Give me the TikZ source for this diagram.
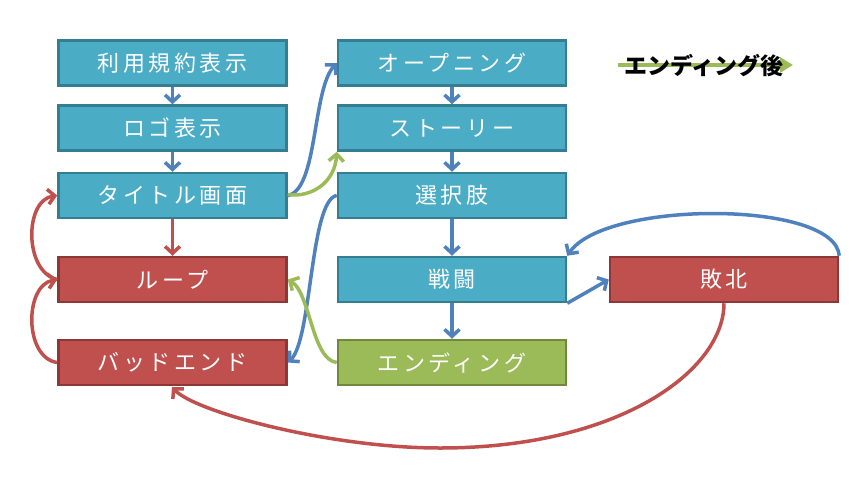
\documentclass[tikz,border=0pt]{standalone}
\usepackage{fontspec}
\usetikzlibrary{arrows.meta}
\newfontfamily\flowfont{Noto Sans CJK JP}[LetterSpace=16]
\newfontfamily\legendfont{Noto Sans CJK JP}
\definecolor{boxblue}{HTML}{4BACC6}
\definecolor{boxblueline}{HTML}{357D91}
\definecolor{boxred}{HTML}{C0504D}
\definecolor{boxredline}{HTML}{8C3836}
\definecolor{boxgreen}{HTML}{9BBB59}
\definecolor{boxgreenline}{HTML}{71893F}
\definecolor{lineblue}{HTML}{4F81BD}
\newcommand\flowboxwidth{228pt}
\newcommand\flowboxheight{45pt}
\newcommand\flowtextstyle{\fontsize{22pt}{24pt}\selectfont\flowfont}
\tikzset{
  flowbox/.style={rectangle, line width=2.5pt, minimum width=\flowboxwidth,
    minimum height=\flowboxheight, inner sep=0pt, text=white, font=\flowtextstyle},
  bluebox/.style={flowbox, fill=boxblue, draw=boxblueline},
  redbox/.style={flowbox, fill=boxred, draw=boxredline},
  greenbox/.style={flowbox, fill=boxgreen, draw=boxgreenline},
  flowtip/.style={-{Straight Barb[length=7pt,width=15pt]}},
  blueflow/.style={flowtip, draw=lineblue, line width=3.5pt},
  redflow/.style={flowtip, draw=boxred, line width=3.5pt},
  greenflow/.style={flowtip, draw=boxgreen, line width=3.5pt},
}

\begin{document}
\begin{tikzpicture}[x=1pt, y=-1pt]
  \useasboundingbox (0,0) rectangle (856,482);
  % left column
  \node[bluebox] (terms) at (172.5, 63) {利用規約表示};
  \node[bluebox] (logo) at (172.5, 128) {ロゴ表示};
  \node[bluebox] (title) at (172.5, 195.5) {タイトル画面};
  \node[redbox] (loop) at (172.5, 279.5) {ループ};
  \node[redbox] (badend) at (172.5, 362.5) {バッドエンド};
  % right column
  \node[bluebox] (opening) at (452, 63) {オープニング};
  \node[bluebox] (story) at (452, 128) {ストーリー};
  \node[bluebox] (choice) at (452, 195.5) {選択肢};
  \node[bluebox] (battle) at (452, 279.5) {戦闘};
  \node[greenbox] (ending) at (452, 362.5) {エンディング};
  \node[redbox] (defeat) at (724, 279.5) {敗北};
  % legend
  \coordinate (legendstart) at (618, 65);
  \coordinate (legendend) at (793, 65);
  \draw[draw=boxgreen, line width=4.5pt, -{Triangle[length=13pt,width=15pt]}] (legendstart) -- (legendend);
  \node (legend) at (704, 66) {\fontsize{23pt}{25pt}\selectfont\legendfont\bfseries エンディング後};

  \draw[blueflow] (terms) -- (logo);
  \draw[blueflow] (logo) -- (title);
  \draw[blueflow] (opening) -- (story);
  \draw[blueflow] (story) -- (choice);
  \draw[blueflow] (choice) -- (battle);
  \draw[blueflow] (battle) -- (ending);
  \draw[redflow] (title) -- (loop);
  \draw[blueflow] (title.east) .. controls (318,190) and (312,90) .. (opening.west);
  \draw[greenflow] ([yshift=1pt]title.east) .. controls (312,198) and (335,182) .. (story.south west);
  \draw[blueflow] (choice.west) .. controls (310,200) and (312,340) .. (badend.east);
  \draw[greenflow] (ending.west) .. controls (312,360) and (310,292) .. (loop.east);
  \draw[redflow] (loop.west) .. controls (24,272) and (24,200) .. (title.west);
  \draw[redflow] (badend.west) .. controls (24,358) and (24,285) .. (loop.west);
  \draw[blueflow] (battle.south east) -- (defeat.west);
  \draw[blueflow] (defeat.north east) .. controls (835,200) and (605,200) .. (battle.north east);
  \coordinate (lowturn) at (440, 448);
  \coordinate (badendfoot) at (172, 387);
  \draw[redflow] (defeat.south) .. controls (724,370) and (620,448) .. (lowturn)
    .. controls (330,448) and (195,412) .. (badendfoot);
\end{tikzpicture}
\end{document}
